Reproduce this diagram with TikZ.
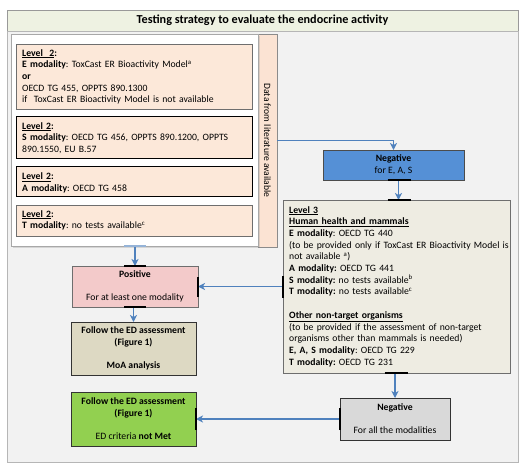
\documentclass[tikz,border=0pt]{standalone}
\usepackage{fontspec}
\setmainfont{Carlito}
\frenchspacing
\usetikzlibrary{arrows.meta,shadows}
\definecolor{titlebg}{HTML}{EEF2E2}
\definecolor{mainbg}{HTML}{F2F2F2}
\definecolor{peach}{HTML}{FCE8D9}
\definecolor{stripc}{HTML}{FBE3D3}
\definecolor{negblue}{HTML}{5590D6}
\definecolor{lthree}{HTML}{EEECE2}
\definecolor{posc}{HTML}{F3CACA}
\definecolor{moac}{HTML}{DDD9C3}
\definecolor{greenc}{HTML}{92D050}
\definecolor{grayc}{HTML}{D9D9D9}
\definecolor{arrc}{HTML}{4F81BD}
\definecolor{bordc}{HTML}{6E6E6E}
\begin{document}
\begin{tikzpicture}[x=1pt,y=-1pt,
  txt/.style={font=\fontsize{9.7}{11.7}\selectfont},
  shell/.style={anchor=north west,inner sep=0pt,outer sep=0pt,line width=0.8pt},
  lvltwo/.style={shell,draw=bordc,fill=peach,minimum width=236pt},
  ltxt/.style={txt,anchor=north west,inner sep=0pt,text width=228pt,align=left},
  cbox/.style={shell,draw=bordc,txt,align=center},
  arr/.style={draw=arrc,line width=1.6pt,-{Stealth[length=7pt,width=7pt,inset=2pt]}},
  tick/.style={draw=black,line width=1.6pt},
  btick/.style={draw=arrc!60,line width=1.6pt}]
\useasboundingbox (0,0) rectangle (528,469);
% frame
\node[shell,draw=bordc!70,fill=titlebg,minimum width=511pt,minimum height=21pt,font=\fontsize{12.2}{14}\selectfont\bfseries] (title) at (7,10) {Testing strategy to evaluate the endocrine activity};
\node[shell,draw=bordc!50,fill=mainbg,minimum width=511pt,minimum height=431pt] (frame) at (7,31) {};
% strip
\node[shell,draw=bordc!80,fill=stripc,minimum width=19pt,minimum height=213pt] (strip) at (258,34) {};
\node[rotate=-90,font=\fontsize{9.6}{11}\selectfont] (striptxt) at (strip.center) {Data from literature available};
% white container
\node[shell,draw=bordc!60,fill=white,minimum width=247pt,minimum height=212pt,drop shadow={opacity=0.25,shadow xshift=2pt,shadow yshift=-2pt}] (wc) at (11,34) {};
% level 2 boxes
\node[lvltwo,minimum height=65pt] (e) at (16,44) {};
\node[ltxt] (etxt) at (22,49) {\underline{\textbf{Level\ \ 2}}\textbf{:}\\
\textbf{E modality}: ToxCast ER Bioactivity Model\textsuperscript{a}\\
\textbf{or}\\
OECD TG 455, OPPTS 890.1300\\
if\ \ ToxCast ER Bioactivity Model is not available};
\node[lvltwo,draw=black,minimum height=42pt] (s) at (16,116) {};
\node[ltxt] (stxt) at (22,122) {\underline{\textbf{Level 2}}\textbf{:}\\
\textbf{S modality}: OECD TG 456, OPPTS 890.1200, OPPTS\\
890.1550, EU B.57};
\node[lvltwo,draw=black,minimum height=30pt] (a) at (16,166) {};
\node[ltxt] (atxt) at (22,172.5) {\underline{\textbf{Level 2}}\textbf{:}\\
\textbf{A modality}: OECD TG 458};
\node[lvltwo,minimum height=31pt] (t) at (16,205) {};
\node[ltxt] (ttxt) at (22,210) {\underline{\textbf{Level 2}}\textbf{:}\\
\textbf{T modality}: no tests available\textsuperscript{c}};
% negative blue
\node[cbox,draw=black!70,fill=negblue,minimum width=141pt,minimum height=30pt] (negb) at (323,150) {\textbf{Negative}\\for E, A, S};
% level 3
\node[shell,draw=bordc,fill=lthree,minimum width=227pt,minimum height=173pt] (l3) at (283,200) {};
\node[txt,anchor=north west,inner sep=0pt,text width=222pt,align=left] (l3txt) at (289,206) {\underline{\textbf{Level 3}}\\
\underline{\textbf{Human health and mammals}}\\
\textbf{E modality}: OECD TG 440\\
(to be provided only if ToxCast ER Bioactivity Model is\\
not available \textsuperscript{a})\\
\textbf{A modality:} OECD TG 441\\
\textbf{S modality:} no tests available\textsuperscript{b}\\
\textbf{T modality:} no tests available\textsuperscript{c}\\[11.7pt]
\underline{\textbf{Other non-target organisms}}\\
(to be provided if the assessment of non-target\\
organisms other than mammals is needed)\\
\textbf{E, A, S modality}: OECD TG 229\\
\textbf{T modality:} OECD TG 231};
% positive
\node[cbox,fill=posc,minimum width=126pt,minimum height=41pt] (pos) at (72,266) {\textbf{Positive}\\[11pt]For at least one modality};
% moa
\node[cbox,draw=black!80,fill=moac,minimum width=125pt,minimum height=53pt] (moa) at (71,322) {\textbf{Follow the ED assessment}\\\textbf{(Figure 1)}\\[11.5pt]\textbf{MoA analysis}};
% green
\node[cbox,draw=black!80,fill=greenc,minimum width=125pt,minimum height=54pt] (grn) at (71,392) {\textbf{Follow the ED assessment}\\\textbf{(Figure 1)}\\[11.5pt]ED criteria \textbf{not Met}};
% gray negative
\node[cbox,draw=black!80,fill=grayc,minimum width=110pt,minimum height=42pt] (gneg) at (340,398) {\textbf{Negative}\\[11.5pt]For all the modalities};
% connectors
\draw[arr] (wc.south -| pos.north) -- (pos.north);
\draw[arr] (strip.east) -| (negb.north);
\draw[arr] ([xshift=5pt]negb.south) -- ([xshift=5pt]negb.south |- l3.north);
\draw[arr] (l3.west) -- (pos.east);
\draw[arr] (pos.south -| moa.north) -- (moa.north);
\draw[arr] (l3.south -| gneg.north) -- (gneg.north);
\draw[arr] (gneg.west) -- (grn.east);
% glue marks
\draw[btick] ([xshift=-11pt]wc.south -| pos.north) -- ([xshift=11pt]wc.south -| pos.north);
\draw[tick] ([xshift=-11pt]pos.north) -- ([xshift=11pt]pos.north);
\draw[tick] ([xshift=-11pt]pos.south) -- ([xshift=11pt]pos.south);
\draw[tick] ([yshift=-10pt]pos.east) -- ([yshift=10pt]pos.east);
\draw[tick] ([yshift=-11pt]l3.west) -- ([yshift=11pt]l3.west);
\draw[tick] ([xshift=-6pt]negb.south) -- ([xshift=17pt]negb.south);
\draw[tick] ([xshift=-6pt]negb.south |- l3.north) -- ([xshift=17pt]negb.south |- l3.north);
\draw[tick] ([xshift=-12pt]l3.south) -- ([xshift=11pt]l3.south);
\draw[tick] ([yshift=-11pt]gneg.west) -- ([yshift=11pt]gneg.west);
\draw[tick] ([yshift=-11pt]grn.east) -- ([yshift=11pt]grn.east);
\end{tikzpicture}
\end{document}
